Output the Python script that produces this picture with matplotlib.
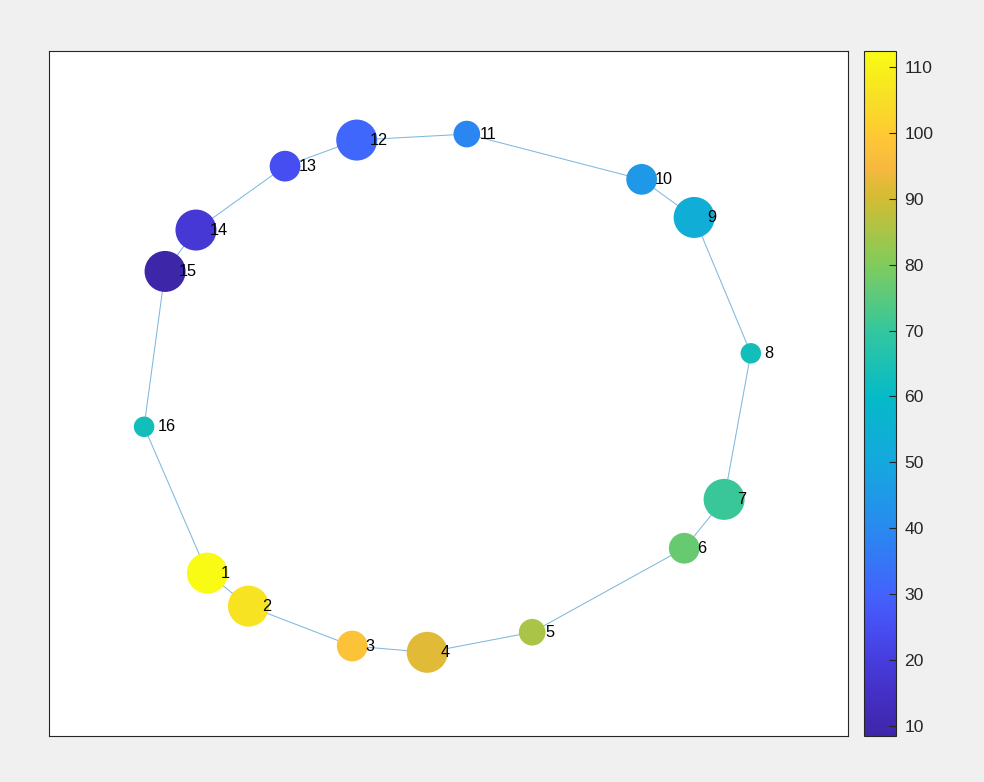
import matplotlib
matplotlib.use("Agg")
import matplotlib.pyplot as plt
from matplotlib.colors import LinearSegmentedColormap, Normalize
import matplotlib.cm as cm
import numpy as np

plt.rcParams['font.family'] = ['Liberation Sans', 'DejaVu Sans']

# ---- data ----
node_labels = [str(i) for i in range(1, 17)]
node_x = [-0.804, -0.667, -0.321, -0.071, 0.279, 0.786, 0.919, 1.008,
          0.819, 0.644, 0.061, -0.306, -0.545, -0.842, -0.945, -1.015]
node_y = [-0.599, -0.709, -0.842, -0.863, -0.796, -0.516, -0.353, 0.134,
          0.587, 0.714, 0.865, 0.845, 0.758, 0.545, 0.407, -0.111]
node_value = [112.4, 106, 98, 92, 85, 77, 71, 63,
              53, 45, 39, 31, 25, 18, 8.5, 63]
node_size = [20, 20, 15, 20, 13, 15, 20, 10, 20, 15, 13, 20, 15, 20, 20, 10]
edge_s = [1, 2, 3, 4, 5, 6, 7, 8, 9, 10, 11, 12, 13, 14, 15, 16]
edge_t = [2, 3, 4, 5, 6, 7, 8, 9, 10, 11, 12, 13, 14, 15, 16, 1]
cbar_ticks = [10, 20, 30, 40, 50, 60, 70, 80, 90, 100, 110]

# parula-like colormap
parula_pts = [
    (0.000, (0.2422, 0.1504, 0.6603)),
    (0.063, (0.267, 0.190, 0.780)),
    (0.111, (0.275, 0.240, 0.870)),
    (0.159, (0.280, 0.310, 0.950)),
    (0.207, (0.260, 0.390, 0.990)),
    (0.303, (0.160, 0.540, 0.940)),
    (0.399, (0.080, 0.660, 0.870)),
    (0.496, (0.020, 0.730, 0.780)),
    (0.592, (0.200, 0.780, 0.620)),
    (0.688, (0.500, 0.800, 0.360)),
    (0.784, (0.820, 0.740, 0.200)),
    (0.832, (0.970, 0.720, 0.250)),
    (0.880, (1.000, 0.790, 0.200)),
    (0.929, (0.970, 0.870, 0.150)),
    (1.000, (0.9769, 0.9839, 0.0805)),
]
parula = LinearSegmentedColormap.from_list('parula', parula_pts, N=256)

W, H = 984, 782
fig = plt.figure(figsize=(W / 100, H / 100), dpi=100, facecolor='#f0f0f0')
ax = fig.add_axes([49 / W, (H - 736) / H, 799 / W, 685 / H])
ax.set_facecolor('white')

vmin, vmax = min(node_value), max(node_value)
norm = Normalize(vmin=vmin, vmax=vmax)

edge_color = (0.5, 0.7235, 0.8705)
for s, t in zip(edge_s, edge_t):
    ax.plot([node_x[s - 1], node_x[t - 1]], [node_y[s - 1], node_y[t - 1]],
            color=edge_color, lw=0.75, zorder=1, solid_capstyle='butt')

sizes = [(v * 1.476) ** 2 for v in node_size]
ax.scatter(node_x, node_y, s=sizes, c=node_value, cmap=parula, norm=norm,
           edgecolors='none', zorder=2)

for lx, ly, lab in zip(node_x, node_y, node_labels):
    ax.annotate(lab, (lx, ly), xytext=(9.6, 0), textcoords='offset points',
                ha='left', va='center', fontsize=11.7, color='black', zorder=3)

ax.set_xlim(-1.332, 1.332)
ax.set_ylim(-1.142, 1.142)
ax.set_xticks([])
ax.set_yticks([])
for sp in ax.spines.values():
    sp.set_color('#262626')
    sp.set_linewidth(0.8)

cax = fig.add_axes([864 / W, (H - 736) / H, 32 / W, 685 / H])
cb = fig.colorbar(cm.ScalarMappable(norm=norm, cmap=parula), cax=cax)
cb.set_ticks(cbar_ticks)
cb.outline.set_edgecolor('#262626')
cb.outline.set_linewidth(0.8)
cax.tick_params(direction='in', length=5, width=0.8, color='#262626',
                labelsize=12.6, labelcolor='#262626', pad=6)

fig.savefig('out.png', dpi=100, facecolor=fig.get_facecolor())
